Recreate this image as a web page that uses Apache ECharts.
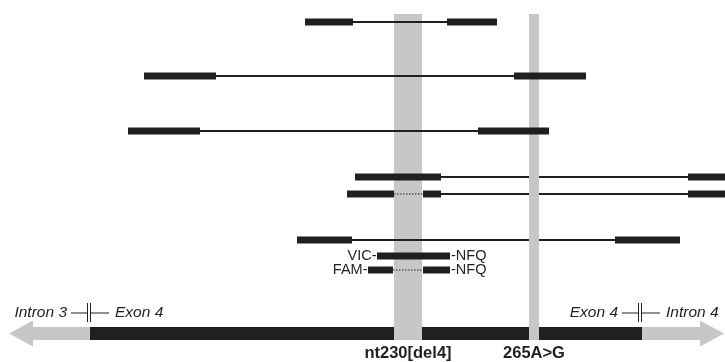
<!DOCTYPE html>
<html><head><meta charset="utf-8">
<script src="https://cdn.jsdelivr.net/npm/echarts@6/dist/echarts.min.js"></script>
<style>html,body{margin:0;padding:0;background:#fff}#c{width:725px;height:362px}</style>
</head><body><div id="c"></div>
<script>
// Lanes (vertical track levels in diagram units)
const laneP1 = 22, laneP2 = 76, laneP3 = 131, laneP4 = 177, laneP5 = 194, laneP6 = 240, laneVIC = 256, laneFAM = 270, laneGene = 333.5;
// Primer/probe bars: [lane, start, end] (sequence coordinate units)
const primerBars = [
  [laneP1, 305, 353], [laneP1, 447, 497],
  [laneP2, 144, 216], [laneP2, 514, 586],
  [laneP3, 128, 200], [laneP3, 478, 549],
  [laneP4, 355, 441], [laneP4, 688, 725],
  [laneP5, 347, 394], [laneP5, 423, 441], [laneP5, 688, 725],
  [laneP6, 297, 352], [laneP6, 615, 680],
  [laneVIC, 377, 450],
  [laneFAM, 368, 393], [laneFAM, 423, 450]
];
// Solid connectors between primer pairs: [lane, start, end]
const solidLinks = [
  [laneP1, 353, 447], [laneP2, 216, 514], [laneP3, 200, 478],
  [laneP4, 441, 688], [laneP5, 441, 688], [laneP6, 352, 615]
];
// Dotted (deleted) segments: [lane, start, end]
const dottedLinks = [[laneP5, 394, 423], [laneFAM, 393, 423]];
// Probe dye tags: [lane, leftLabel, leftPos, rightLabel, rightPos]
const probeTags = [
  [laneVIC, 'VIC-', 377, '-NFQ', 450],
  [laneFAM, 'FAM-', 368, '-NFQ', 450]
];
// Variant sites: [start, end, label]
const variants = [[394, 422, 'nt230[del4]'], [529, 539, '265A>G']];
const variantTop = 14, variantBottom = 340, variantLabelLane = 353;
// Gene structure
const exonSpan = [90, 642];
const intronLeft = [9, 90], intronRight = [642, 724];
// Boundary labels: [leftText, rightText, breakPos]
const boundaries = [['Intron 3', 'Exon 4', 89], ['Exon 4', 'Intron 4', 640]];
const boundaryLane = 313;

const BLACK = '#231f20', GRAY = '#c6c7c9';
const FONT = 'Liberation Sans, Arial, sans-serif';

const chart = echarts.init(document.getElementById('c'));

function barRender(h, color) {
  return function (params, api) {
    const lane = api.value(0), s = api.value(1), e = api.value(2);
    const p1 = api.coord([s, lane]), p2 = api.coord([e, lane]);
    return { type: 'rect', shape: { x: p1[0], y: p1[1] - h / 2, width: p2[0] - p1[0], height: h }, style: { fill: color } };
  };
}
function lineRender(w, dash) {
  return function (params, api) {
    const lane = api.value(0), s = api.value(1), e = api.value(2);
    const p1 = api.coord([s, lane]), p2 = api.coord([e, lane]);
    return { type: 'line', shape: { x1: p1[0], y1: p1[1], x2: p2[0], y2: p2[1] }, style: { stroke: BLACK, lineWidth: w, lineDash: dash || null } };
  };
}
function bandRender(params, api) {
  const p1 = api.coord([api.value(0), variantTop]), p2 = api.coord([api.value(1), variantBottom]);
  return { type: 'rect', shape: { x: p1[0], y: p1[1], width: p2[0] - p1[0], height: p2[1] - p1[1] }, style: { fill: GRAY } };
}

const option = {
  animation: false,
  grid: { left: 0, right: 0, top: 0, bottom: 0 },
  xAxis: { type: 'value', min: 0, max: 725, show: false },
  yAxis: { type: 'value', min: 0, max: 362, inverse: true, show: false },
  series: [
    // gene: introns (gray arrows) and exon (black)
    {
      type: 'custom', z: 1, data: [[0]],
      renderItem: function (params, api) {
        const sh = 6.5, hh = 13, hl = 24;
        const L0 = api.coord([intronLeft[0], laneGene]), L1 = api.coord([intronLeft[1], laneGene]);
        const R0 = api.coord([intronRight[0], laneGene]), R1 = api.coord([intronRight[1], laneGene]);
        const E0 = api.coord([exonSpan[0], laneGene]), E1 = api.coord([exonSpan[1], laneGene]);
        const cy = L0[1];
        return {
          type: 'group', children: [
            { type: 'polygon', shape: { points: [[L0[0], cy], [L0[0] + hl, cy - hh], [L0[0] + hl, cy - sh], [L1[0], cy - sh], [L1[0], cy + sh], [L0[0] + hl, cy + sh], [L0[0] + hl, cy + hh]] }, style: { fill: GRAY } },
            { type: 'polygon', shape: { points: [[R1[0], cy], [R1[0] - hl, cy - hh], [R1[0] - hl, cy - sh], [R0[0], cy - sh], [R0[0], cy + sh], [R1[0] - hl, cy + sh], [R1[0] - hl, cy + hh]] }, style: { fill: GRAY } },
            { type: 'rect', shape: { x: E0[0], y: cy - sh, width: E1[0] - E0[0], height: sh * 2 }, style: { fill: BLACK } }
          ]
        };
      }
    },
    // variant bands (first below connector lines, second above them)
    { type: 'custom', z: 2, data: [variants[0].slice(0, 2)], renderItem: bandRender },
    { type: 'custom', z: 3.5, data: [variants[1].slice(0, 2)], renderItem: bandRender },
    // variant labels
    {
      type: 'custom', z: 6, data: variants.map(v => [(v[0] + v[1]) / 2, variantLabelLane]),
      renderItem: function (params, api) {
        const p = api.coord([api.value(0), api.value(1)]);
        return { type: 'text', x: p[0], y: p[1], style: { text: variants[params.dataIndex][2], fill: BLACK, font: 'bold 16.5px ' + FONT, textAlign: 'center', textVerticalAlign: 'middle' } };
      }
    },
    { type: 'custom', z: 3, data: solidLinks, renderItem: lineRender(2) },
    { type: 'custom', z: 3, data: dottedLinks, renderItem: lineRender(1.2, [1.5, 1.5]) },
    { type: 'custom', z: 4, data: primerBars, renderItem: barRender(7, BLACK) },
    // probe tags
    {
      type: 'custom', z: 6, data: probeTags.map(t => [t[0], t[2], t[4]]),
      renderItem: function (params, api) {
        const t = probeTags[params.dataIndex];
        const pL = api.coord([t[2], t[0]]), pR = api.coord([t[4], t[0]]);
        return {
          type: 'group', children: [
            { type: 'text', x: pL[0] - 0.5, y: pL[1], style: { text: t[1], fill: BLACK, font: '14.5px ' + FONT, textAlign: 'right', textVerticalAlign: 'middle' } },
            { type: 'text', x: pR[0] + 1, y: pR[1], style: { text: t[3], fill: BLACK, font: '14.5px ' + FONT, textAlign: 'left', textVerticalAlign: 'middle' } }
          ]
        };
      }
    },
    // boundary labels with break symbols
    {
      type: 'custom', z: 6, data: boundaries.map(b => [b[2], boundaryLane]),
      renderItem: function (params, api) {
        const b = boundaries[params.dataIndex];
        const p = api.coord([b[2], boundaryLane]);
        const x = p[0], y = p[1];
        const st = { stroke: BLACK, lineWidth: 1 };
        return {
          type: 'group', children: [
            { type: 'line', shape: { x1: x - 18, y1: y, x2: x - 1.5, y2: y }, style: st },
            { type: 'line', shape: { x1: x - 1.5, y1: y - 10, x2: x - 1.5, y2: y + 9 }, style: st },
            { type: 'line', shape: { x1: x + 1.5, y1: y - 10, x2: x + 1.5, y2: y + 9 }, style: st },
            { type: 'line', shape: { x1: x + 1.5, y1: y, x2: x + 20, y2: y }, style: st },
            { type: 'text', x: x - 22, y: y, style: { text: b[0], fill: BLACK, font: 'italic 15.5px ' + FONT, textAlign: 'right', textVerticalAlign: 'middle' } },
            { type: 'text', x: x + 26, y: y, style: { text: b[1], fill: BLACK, font: 'italic 15.5px ' + FONT, textAlign: 'left', textVerticalAlign: 'middle' } }
          ]
        };
      }
    }
  ]
};
chart.setOption(option);
</script>
</body></html>
